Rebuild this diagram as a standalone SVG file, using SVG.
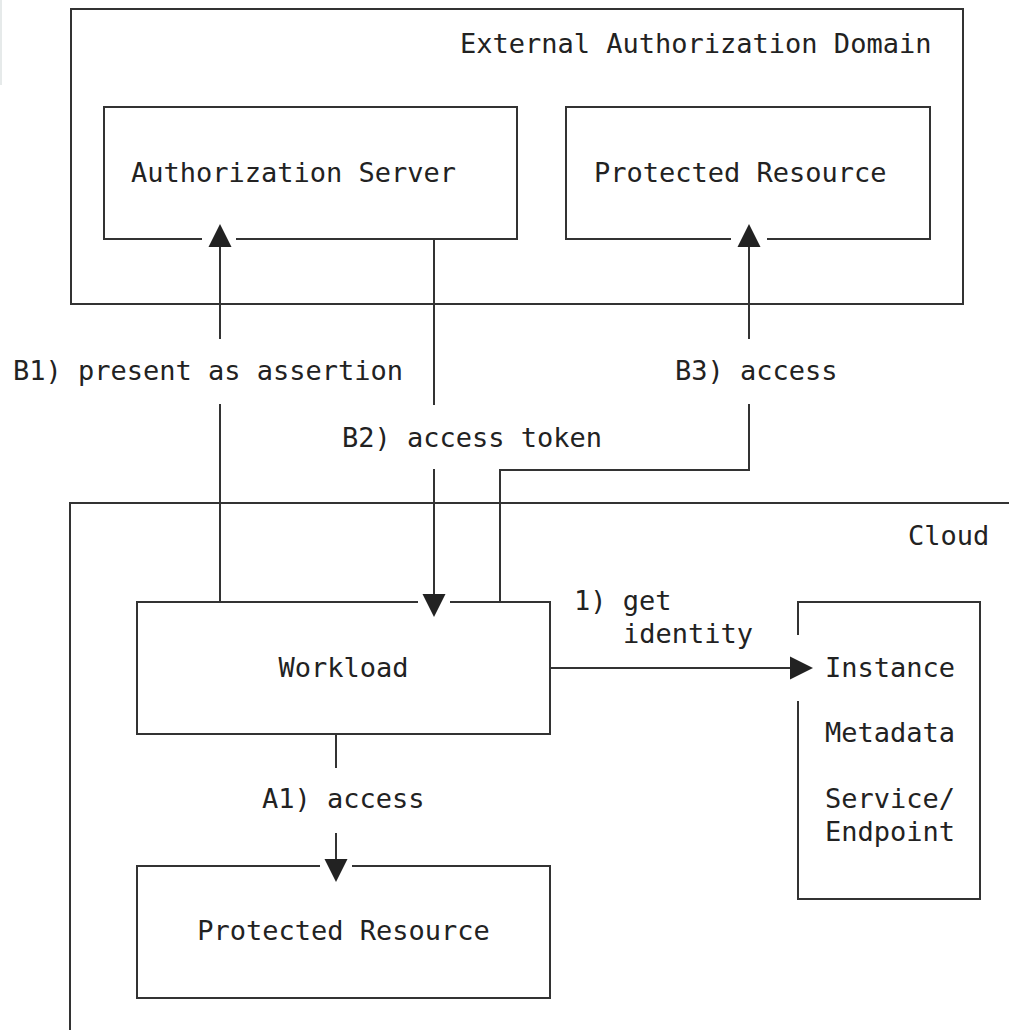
<svg xmlns="http://www.w3.org/2000/svg" width="1009" height="1030" viewBox="0 0 1009 1030">
<style>
.box{fill:none;stroke:#333;stroke-width:2}
.ln{fill:none;stroke:#333;stroke-width:2}
.ko{fill:#fff;stroke:none}
.ah{fill:#222;stroke:none}
text{font-family:"DejaVu Sans Mono","Liberation Mono",monospace;font-size:27px;fill:#222}
</style>
<rect x="0" y="0" width="1009" height="1030" fill="#fff"/>
<rect x="0" y="0" width="2" height="85" fill="#e6eaea"/>
<g id="external-domain">
<rect class="box" x="71" y="9" width="892" height="295"/>
<text x="460" y="53">External Authorization Domain</text>
</g>
<g id="cloud">
<path class="box" d="M70,1030 V503 H1009"/>
<text x="908" y="545">Cloud</text>
</g>
<g id="authorization-server">
<rect class="box" x="104" y="107" width="413" height="132"/>
<text x="131" y="182">Authorization Server</text>
</g>
<g id="protected-resource-ext">
<rect class="box" x="566" y="107" width="364" height="132"/>
<text x="594" y="182">Protected Resource</text>
</g>
<g id="workload">
<rect class="box" x="137" y="602" width="413" height="132"/>
<text x="343.5" y="677" text-anchor="middle">Workload</text>
</g>
<g id="protected-resource-cloud">
<rect class="box" x="137" y="866" width="413" height="132"/>
<text x="343.5" y="940" text-anchor="middle">Protected Resource</text>
</g>
<g id="instance-metadata">
<path class="box" d="M798,635 V602 H980 V899 H798 V701"/>
<text x="825" y="677">Instance</text>
<text x="825" y="742">Metadata</text>
<text x="825" y="808">Service/</text>
<text x="825" y="841">Endpoint</text>
</g>
<g id="connectors">
<rect class="ko" x="202" y="236" width="34" height="6"/>
<rect class="ko" x="731" y="236" width="36" height="6"/>
<rect class="ko" x="418" y="599" width="32" height="6"/>
<rect class="ko" x="320" y="863" width="32" height="6"/>
<path class="ln" d="M220,602 V404 M220,339 V246"/>
<polygon class="ah" points="220,224 231.5,247 208.5,247"/>
<path class="ln" d="M434,239 V405 M434,469 V596"/>
<polygon class="ah" points="434,617 445.5,594 422.5,594"/>
<path class="ln" d="M500,602 V470 H749 V404 M749,339 V246"/>
<polygon class="ah" points="749,224 760.5,247 737.5,247"/>
<path class="ln" d="M336,734 V768 M336,833 V860"/>
<polygon class="ah" points="336,882 347.5,859 324.5,859"/>
<path class="ln" d="M550,668 H792"/>
<polygon class="ah" points="813,668 790,656.5 790,679.5"/>
<text x="13" y="380">B1) present as assertion</text>
<text x="342" y="447">B2) access token</text>
<text x="675" y="380">B3) access</text>
<text x="262" y="808">A1) access</text>
<text x="574" y="610">1) get</text>
<text x="623" y="643">identity</text>
</g>
</svg>
